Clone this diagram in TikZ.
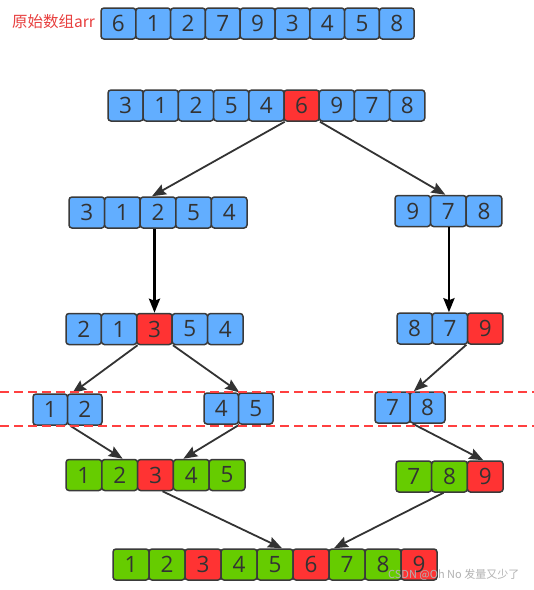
\documentclass[tikz,border=0pt]{standalone}
\usepackage{fontspec}
\newfontfamily\digitfont{Open Sans}
\newfontfamily\cjkfont{Noto Sans CJK SC}
\usetikzlibrary{arrows.meta}
\definecolor{cblue}{HTML}{62AEFF}
\definecolor{cred}{HTML}{FF3333}
\definecolor{cgreen}{HTML}{66CC00}
\definecolor{cedge}{HTML}{3A3A3A}
\definecolor{ctext}{HTML}{333333}
\definecolor{clabel}{HTML}{E8403F}
\definecolor{cdash}{HTML}{FF4040}
\tikzset{
  cell/.style={draw=cedge, line width=1.5pt, rounded corners=3pt, minimum height=31pt,
    inner sep=0pt, text=ctext, font=\digitfont\fontsize{22.5}{22.5}\selectfont},
  flow/.style={draw=ctext, line width=1.8pt, -{Stealth[length=14pt,width=11pt,inset=2pt]}},
  vflow/.style={draw=black, line width=2.8pt, -{Stealth[length=14pt,width=11pt,inset=2pt]}},
  redline/.style={draw=cdash, line width=1.6pt, dash pattern=on 9pt off 5pt}
}
\newcommand{\mkrow}[5]{%
  \foreach [count=\i] \v/\c in {#5} {
    \node[cell, fill=\c, minimum width=#4 pt] (#1\i) at ({#2+(\i-0.5)*#4}, #3) {\v};
  }}
\begin{document}
\begin{tikzpicture}[x=1pt,y=-1pt]
\useasboundingbox (0,0) rectangle (534,590);
\fill[white] (0,0) rectangle (534,590);
% label
\node[anchor=west, inner sep=0pt, text=clabel, font=\cjkfont\fontsize{15.5}{15.5}\selectfont] (lab) at (12,22) {原始数组arr};
% rows
\mkrow{a}{101}{23.5}{34.8}{6/cblue,1/cblue,2/cblue,7/cblue,9/cblue,3/cblue,4/cblue,5/cblue,8/cblue}
\mkrow{b}{108}{105.5}{35.2}{3/cblue,1/cblue,2/cblue,5/cblue,4/cblue,6/cred,9/cblue,7/cblue,8/cblue}
\mkrow{c}{69}{212.5}{35.6}{3/cblue,1/cblue,2/cblue,5/cblue,4/cblue}
\mkrow{d}{395}{211}{35.6}{9/cblue,7/cblue,8/cblue}
\mkrow{e}{66}{329}{35.4}{2/cblue,1/cblue,3/cred,5/cblue,4/cblue}
\mkrow{f}{397}{328.5}{35.3}{8/cblue,7/cblue,9/cred}
\mkrow{g}{33}{409.5}{34.5}{1/cblue,2/cblue}
\mkrow{h}{204}{408.5}{34.5}{4/cblue,5/cblue}
\mkrow{k}{375}{407.5}{35}{7/cblue,8/cblue}
\mkrow{m}{66}{475}{35.8}{1/cgreen,2/cgreen,3/cred,4/cgreen,5/cgreen}
\mkrow{n}{396}{476.5}{35.7}{7/cgreen,8/cgreen,9/cred}
\mkrow{p}{113}{564.5}{36}{1/cgreen,2/cgreen,3/cred,4/cgreen,5/cgreen,6/cred,7/cgreen,8/cgreen,9/cred}
% connectors
\draw[flow] (b5.south east) -- ([xshift=-6pt]c3.north);
\draw[flow] (b6.south east) -- ([xshift=-3pt]d2.north);
\draw[vflow] (e3.north |- c3.south) -- (e3.north);
\draw[vflow] ([xshift=-1pt]f2.north |- d2.south) -- ([xshift=-1pt]f2.north);
\draw[flow] (e2.south east) -- ([xshift=4pt]g1.north east);
\draw[flow] (e3.south east) -- (h1.north east);
\draw[flow] ([xshift=-2pt]f2.south east) -- ([xshift=3pt]k1.north east);
\draw[flow] ([xshift=2pt]g1.south east) -- ([xshift=3pt]m2.north);
\draw[flow] (h1.south east) -- ([xshift=-8pt]m4.north);
\draw[flow] ([xshift=2pt]k1.south east) -- ([xshift=-2pt]n3.north);
\draw[flow] ([xshift=7pt]m3.south) -- ([xshift=7pt]p5.north);
\draw[flow] ([xshift=-6pt]n2.south) -- ([xshift=-13pt]p7.north);
% dashed red lines
\draw[redline] (0,392) -- (534,392);
\draw[redline] (0,426) -- (534,426);
% watermark
\node[anchor=west, inner sep=0pt, text=gray!60, font=\cjkfont\fontsize{11}{11}\selectfont] (wm) at (388,575) {CSDN @Oh No 发量又少了};
\end{tikzpicture}
\end{document}
